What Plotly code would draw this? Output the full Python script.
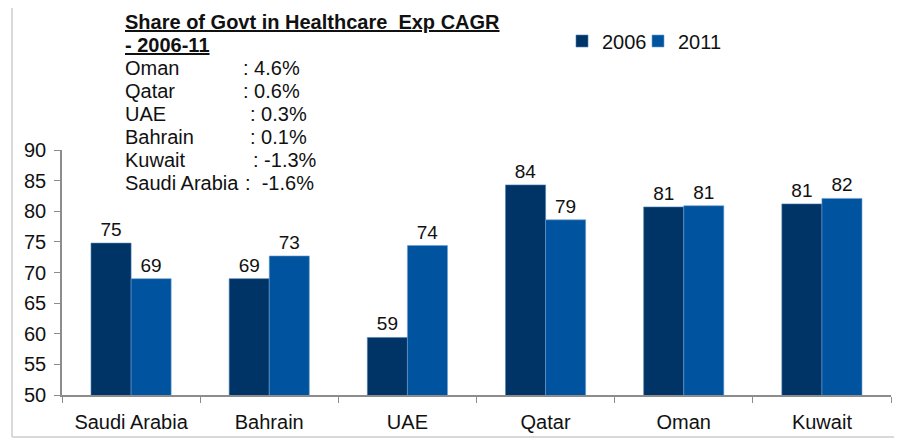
import plotly.graph_objects as go

categories = ["Saudi Arabia", "Bahrain", "UAE", "Qatar", "Oman", "Kuwait"]
values_2006 = [74.8, 69.0, 59.4, 84.3, 80.7, 81.2]
values_2011 = [69.0, 72.7, 74.4, 78.6, 80.9, 82.1]
series_names = ["2006", "2011"]
y_ticks = [50, 55, 60, 65, 70, 75, 80, 85, 90]

note_title = "Share of Govt in Healthcare  Exp CAGR"
note_title2 = "- 2006-11"
note_countries = ["Oman", "Qatar", "UAE", "Bahrain", "Kuwait", "Saudi Arabia"]
note_values = [": 4.6%", ": 0.6%", ": 0.3%", ": 0.1%", ": -1.3%", ":  -1.6%"]

# page body has an 8px default margin on every side; size the figure so the page does not overflow
OFF = 8
W, H = 902 - 2 * OFF, 446 - 2 * OFF
PL, PR, PT, PB = 62, 891, 150, 395          # plot area in page pixels
ML, MT = PL - OFF, PT - OFF
PW, PH = PR - PL, PB - PT
MR, MB = W - ML - PW, H - MT - PH

def px(x):
    return (x - PL) / PW

def py(y):
    return (PB - y) / PH

FONT = "Liberation Sans, Arial, sans-serif"
FS = 20
C06 = "#003366"
C11 = "#00539F"

fig = go.Figure()
fig.add_trace(go.Bar(
    x=categories, y=values_2006, name=series_names[0], legend="legend",
    marker=dict(color=C06, line=dict(color="#4f7fb0", width=0.6)),
    text=values_2006, texttemplate="%{y:.0f}", textposition="outside",
    textfont=dict(size=19, color="#111", family=FONT), cliponaxis=False,
))
fig.add_trace(go.Bar(
    x=categories, y=values_2011, name=series_names[1], legend="legend2",
    marker=dict(color=C11, line=dict(color="#6f9fd0", width=0.6)),
    text=values_2011, texttemplate="%{y:.0f}", textposition="outside",
    textfont=dict(size=19, color="#111", family=FONT), cliponaxis=False,
))

annotations = []
annotations.append(dict(
    x=px(123), y=py(22), xref="paper", yref="paper", xanchor="left", yanchor="middle",
    text="<b><u>" + note_title + "</u></b>", showarrow=False,
    font=dict(size=FS, color="#111", family=FONT),
))
annotations.append(dict(
    x=px(123), y=py(45), xref="paper", yref="paper", xanchor="left", yanchor="middle",
    text="<b><u>" + note_title2 + "</u></b>", showarrow=False,
    font=dict(size=FS, color="#111", family=FONT),
))
row_y = [68, 91, 114, 137, 160, 183]
colon_x = [243, 243, 250, 250, 253, 245]
for name, val, yy, cx in zip(note_countries, note_values, row_y, colon_x):
    annotations.append(dict(
        x=px(123), y=py(yy), xref="paper", yref="paper", xanchor="left", yanchor="middle",
        text=name, showarrow=False, font=dict(size=FS, color="#111", family=FONT),
    ))
    annotations.append(dict(
        x=px(cx - 2), y=py(yy), xref="paper", yref="paper", xanchor="left", yanchor="middle",
        text=val, showarrow=False, font=dict(size=FS, color="#111", family=FONT),
    ))

# light frame round the chart (top, left, bottom edges only)
frame = dict(color="#d9d9d9", width=2)
shapes = [
    dict(type="line", xref="paper", yref="paper", x0=px(12), x1=px(920), y0=py(7), y1=py(7), line=frame, layer="below"),
    dict(type="line", xref="paper", yref="paper", x0=px(12), x1=px(12), y0=py(7), y1=py(437), line=frame, layer="below"),
    dict(type="line", xref="paper", yref="paper", x0=px(12), x1=px(920), y0=py(437), y1=py(437), line=frame, layer="below"),
]

legend_common = dict(
    orientation="h", xanchor="left", yanchor="middle",
    font=dict(size=FS, color="#111", family=FONT), bgcolor="rgba(0,0,0,0)",
    itemwidth=30,
)

fig.update_layout(
    width=W, height=H,
    margin=dict(l=ML, r=MR, t=MT, b=MB, autoexpand=False),
    paper_bgcolor="white", plot_bgcolor="white",
    barmode="group", bargap=0.42, bargroupgap=0,
    font=dict(family=FONT, size=FS, color="#111"),
    showlegend=True,
    legend=dict(x=px(562), y=py(41), **legend_common),
    legend2=dict(x=px(638), y=py(41), **legend_common),
    annotations=annotations,
    shapes=shapes,
    xaxis=dict(
        showline=True, linecolor="#8c8c8c", linewidth=1.5,
        ticks="outside", tickson="boundaries", ticklen=6, tickcolor="#8c8c8c",
        showgrid=False, tickfont=dict(size=FS, family=FONT, color="#111"),
        ticklabelstandoff=8,
    ),
    yaxis=dict(
        range=[50, 90], tickvals=y_ticks, showline=True, linecolor="#8c8c8c", linewidth=1.5,
        ticks="outside", ticklen=6, tickcolor="#8c8c8c", showgrid=False, zeroline=False,
        tickfont=dict(size=FS, family=FONT, color="#111"), ticklabelstandoff=4,
    ),
)

fig.write_html("out.html")
